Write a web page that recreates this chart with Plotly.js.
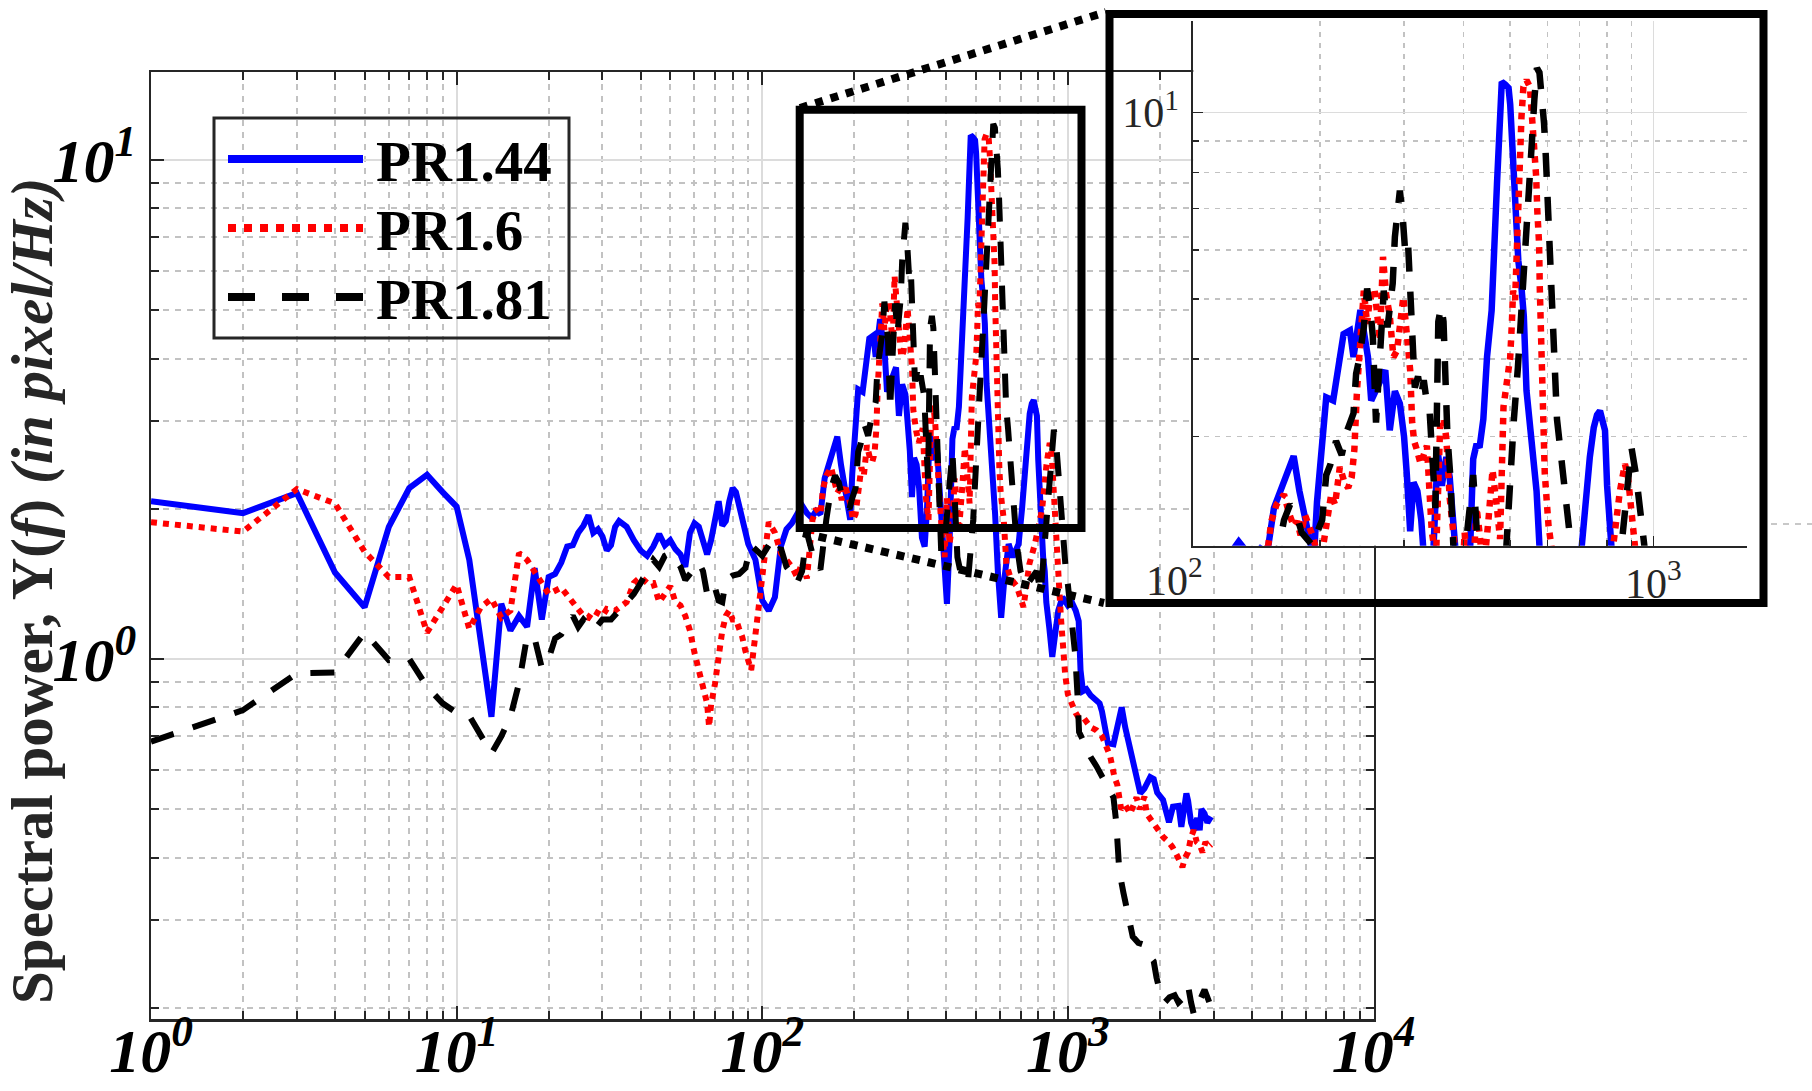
<!DOCTYPE html>
<html><head><meta charset="utf-8">
<script src="https://cdn.plot.ly/plotly-3.0.1.min.js"></script>
<style>html,body{margin:0;padding:0;background:#fff;} #chart{width:1812px;height:1091px;}</style>
</head><body><div id="chart"></div>
<script>
// ---- data (frequency in Hz, spectral power) ----
const seriesNames = ['PR1.44', 'PR1.6', 'PR1.81'];
const seriesColors = ['#0000ff', '#ff0000', '#000000'];

const PR144 = [[1,2.07],[2,1.96],[3,2.15],[4,1.49],[5,1.27],[6,1.84],[7,2.20],[8,2.34],[9,2.16],[10,2.02],[11,1.58],[12,1.11],[13,0.766],[14,1.29],[15,1.14],[16,1.22],[17,1.16],[18,1.52],[19,1.20],[20,1.46],[21,1.48],[22,1.56],[23,1.68],[24,1.69],[25,1.79],[26,1.85],[27,1.94],[28,1.79],[29,1.82],[30,1.76],[31,1.65],[32,1.69],[33,1.84],[34,1.89],[35,1.87],[36,1.84],[38,1.73],[40,1.65],[42,1.61],[44,1.68],[46,1.78],[48,1.69],[50,1.73],[52,1.66],[54,1.62],[56,1.53],[58,1.79],[60,1.87],[62,1.84],[64,1.73],[66,1.62],[68,1.73],[70,1.90],[72,2.07],[74,1.85],[76,1.89],[78,2.07],[80,2.20],[82,2.16],[84,2.02],[86,1.90],[88,1.78],[90,1.70],[95,1.58],[100,1.31],[105,1.25],[110,1.33],[115,1.68],[120,1.82],[125,1.87],[130,1.95],[135,2.03],[140,1.96],[145,1.92],[150,1.98],[155,1.95],[160,2.30],[165,2.45],[170,2.58],[176,2.79],[181,2.45],[186,2.20],[190,2.05],[194,1.90],[197,2.35],[202,2.95],[206,3.47],[213,3.43],[217,3.79],[224,4.39],[231,4.45],[235,4.03],[243,4.80],[248,4.40],[252,4.03],[256,3.43],[262,3.55],[268,3.70],[274,3.84],[280,3.07],[287,3.55],[294,3.39],[300,3.00],[304,2.61],[309,2.11],[314,2.53],[320,2.45],[326,2.20],[333,1.75],[340,1.68],[346,2.00],[353,2.84],[360,2.50],[368,2.78],[374,2.58],[382,2.10],[390,1.60],[396,1.35],[402,1.29],[410,1.70],[419,2.76],[426,2.92],[432,2.88],[440,3.20],[448,4.04],[458,4.79],[466,6.14],[470,7.67],[475,9.13],[481,11.2],[489,11.1],[497,10.96],[501,10.3],[505,9.25],[509,7.87],[512,6.95],[521,5.77],[529,5.22],[535,4.70],[542,3.56],[551,3.07],[560,2.70],[569,2.45],[578,1.95],[590,1.50],[605,1.21],[620,1.45],[640,1.70],[660,1.60],[690,1.70],[708,2.00],[722,2.40],[736,2.78],[750,3.10],[762,3.25],[773,3.30],[785,3.15],[792,3.07],[800,2.50],[811,2.00],[820,1.80],[830,1.60],[840,1.50],[850,1.30],[870,1.15],[889,1.01],[905,1.10],[930,1.25],[960,1.33],[1000,1.28],[1030,1.30],[1061,1.25],[1085,1.19],[1100,0.95],[1120,0.862],[1150,0.87],[1186,0.846],[1230,0.83],[1270,0.815],[1293,0.785],[1330,0.70],[1352,0.678],[1410,0.675],[1460,0.75],[1500,0.80],[1540,0.73],[1605,0.65],[1677,0.591],[1726,0.538],[1780,0.55],[1815,0.56],[1860,0.58],[1909,0.575],[1960,0.54],[2048,0.522],[2142,0.471],[2207,0.506],[2303,0.508],[2351,0.461],[2400,0.50],[2442,0.538],[2474,0.52],[2530,0.47],[2583,0.454],[2650,0.48],[2700,0.454],[2735,0.50],[2800,0.49],[2860,0.47],[2942,0.483]];

const PR16 = [[1,1.88],[2,1.80],[3,2.19],[4,2.05],[5,1.64],[6,1.46],[7,1.46],[8,1.13],[9,1.27],[10,1.41],[11,1.15],[12,1.27],[13,1.32],[14,1.21],[15,1.25],[16,1.63],[17,1.58],[18,1.50],[19,1.42],[20,1.35],[22,1.39],[24,1.30],[26,1.22],[27,1.21],[28,1.25],[30,1.22],[31,1.26],[33,1.25],[36,1.30],[38,1.42],[40,1.46],[42,1.42],[44,1.42],[46,1.30],[48,1.35],[50,1.40],[52,1.30],[54,1.28],[56,1.22],[58,1.14],[60,1.03],[62,0.95],[64,0.88],[66,0.815],[67,0.732],[68,0.81],[70,0.89],[72,1.03],[74,1.14],[76,1.22],[78,1.25],[80,1.20],[82,1.20],[84,1.15],[86,1.108],[88,1.04],[90,0.995],[92,0.95],[95,1.12],[97,1.27],[100,1.46],[105,1.88],[110,1.79],[115,1.63],[120,1.58],[125,1.53],[130,1.46],[135,1.56],[140,1.45],[146,1.90],[150,2.0],[155,1.95],[158,2.19],[162,2.33],[168,2.42],[172,2.26],[176,2.15],[179,2.19],[182,2.08],[186,2.24],[190,2.15],[194,2.05],[198,1.90],[202,1.95],[206,2.15],[211,2.42],[215,2.33],[220,2.68],[225,2.53],[229,2.48],[233,2.58],[236,2.86],[239,3.56],[243,4.29],[247,5.16],[251,4.56],[254,4.97],[260,5.2],[267,4.29],[271,5.85],[275,5.1],[280,4.7],[285,4.03],[290,4.13],[295,4.8],[299,5.04],[304,4.39],[309,3.84],[312,3.16],[315,2.95],[319,2.86],[325,2.71],[335,2.9],[343,2.11],[350,1.9],[357,3.1],[363,3.21],[368,2.98],[374,2.39],[380,2.11],[387,1.8],[395,1.6],[402,2.1],[410,1.7],[420,1.9],[426,2.3],[432,2.1],[440,1.8],[451,2.2],[460,2.65],[470,2.3],[477,2.05],[485,3.35],[493,3.65],[501,4.03],[505,4.56],[508,5.16],[513,4.98],[517,6.14],[521,7.39],[525,8.91],[529,9.84],[534,11.0],[542,11.28],[551,11.0],[556,10.1],[562,8.91],[568,7.87],[571,6.95],[576,6.14],[578,5.2],[582,4.03],[584,3.56],[588,2.95],[592,2.62],[597,2.39],[603,2.15],[617,1.9],[629,1.55],[650,1.45],[680,1.4],[716,1.27],[748,1.55],[780,1.7],[810,1.9],[824,2.0],[851,2.45],[872,2.71],[885,2.58],[898,2.26],[915,1.8],[930,1.5],[950,1.2],[964,1.0],[980,0.93],[1000,0.85],[1030,0.81],[1060,0.78],[1090,0.76],[1130,0.76],[1186,0.73],[1240,0.72],[1293,0.70],[1340,0.66],[1374,0.64],[1420,0.58],[1451,0.56],[1494,0.50],[1540,0.51],[1600,0.49],[1677,0.528],[1720,0.50],[1780,0.53],[1810,0.49],[1854,0.48],[1920,0.47],[1993,0.454],[2050,0.44],[2142,0.429],[2200,0.42],[2270,0.405],[2330,0.39],[2370,0.383],[2420,0.40],[2473,0.41],[2530,0.44],[2582,0.454],[2640,0.43],[2697,0.425],[2760,0.41],[2820,0.43],[2880,0.42],[2942,0.425]];

const PR181 = [[1,0.683],[2,0.79],[3,0.936],[4,0.94],[5,1.13],[6,0.995],[7,1.0],[8,0.88],[9,0.815],[10,0.78],[11,0.77],[12,0.70],[13,0.647],[14,0.70],[15,0.766],[16,0.894],[17,1.11],[18,1.10],[19,0.96],[20,1.0],[21,1.1],[22,1.12],[24,1.22],[25,1.16],[26,1.2],[28,1.14],[30,1.2],[32,1.2],[34,1.25],[36,1.30],[38,1.35],[40,1.42],[42,1.5],[44,1.58],[46,1.53],[48,1.61],[50,1.63],[52,1.58],[54,1.53],[56,1.44],[58,1.48],[60,1.53],[62,1.56],[64,1.5],[66,1.35],[68,1.33],[70,1.39],[72,1.31],[74,1.30],[76,1.44],[80,1.47],[84,1.48],[88,1.52],[92,1.69],[96,1.65],[100,1.61],[105,1.69],[110,1.61],[115,1.67],[120,1.53],[125,1.48],[130,1.42],[135,1.5],[140,1.79],[147,1.6],[155,1.51],[162,1.9],[168,2.2],[173,2.33],[178,2.26],[183,2.1],[188,2.05],[193,2.0],[197,2.1],[202,2.2],[206,2.6],[210,2.7],[216,2.95],[222,2.8],[228,3.07],[235,3.27],[238,3.79],[242,4.03],[247,4.5],[251,5.2],[255,4.8],[258,4.35],[262,3.16],[265,3.6],[268,4.2],[272,5.16],[277,4.5],[280,4.8],[284,5.3],[287,6.3],[291,6.9],[294,7.48],[298,6.8],[302,5.9],[306,6.1],[309,5.0],[313,4.2],[316,3.6],[321,3.75],[326,3.5],[330,3.7],[335,3.4],[339,3.35],[345,2.6],[349,2.3],[354,4.6],[359,4.87],[363,4.6],[366,3.8],[370,3.0],[375,2.6],[378,2.24],[385,1.64],[395,1.7],[405,2.05],[412,2.3],[419,2.6],[425,2.2],[435,1.6],[450,1.45],[471,1.43],[490,1.9],[501,2.6],[510,3.2],[520,3.88],[530,4.8],[539,6.0],[548,7.5],[556,8.9],[563,10.5],[570,11.8],[577,11.6],[583,10.8],[590,9.6],[595,8.5],[600,7.2],[605,6.3],[610,5.2],[616,4.5],[622,3.8],[628,3.2],[637,2.9],[648,2.5],[659,2.27],[668,2.05],[680,1.7],[700,1.5],[730,1.4],[760,1.45],[790,1.5],[815,1.36],[840,1.7],[860,2.1],[881,2.5],[900,2.88],[920,2.6],[940,2.2],[955,1.9],[970,1.6],[985,1.5],[1000,1.41],[1030,1.2],[1057,1.02],[1075,0.85],[1088,0.714],[1130,0.68],[1186,0.637],[1240,0.61],[1293,0.58],[1350,0.55],[1410,0.528],[1440,0.47],[1473,0.376],[1520,0.34],[1560,0.311],[1630,0.278],[1700,0.27],[1776,0.2676],[1840,0.255],[1909,0.248],[1950,0.23],[1993,0.2175],[2081,0.2055],[2150,0.21],[2236,0.212],[2300,0.205],[2380,0.209],[2473,0.2216],[2530,0.205],[2583,0.194],[2650,0.205],[2720,0.209],[2800,0.2175],[2860,0.21],[2900,0.2055]];

const xTickVals = [1, 10, 100, 1000, 10000];
const xTickText = ['10<sup>0</sup>', '10<sup>1</sup>', '10<sup>2</sup>', '10<sup>3</sup>', '10<sup>4</sup>'];
const yTickVals = [1, 10];
const yTickText = ['10<sup>0</sup>', '10<sup>1</sup>'];
const insetXTickVals = [1000];
const insetXTickText = ['10<sup>3</sup>'];
const insetYTickVals = [10];
const insetYTickText = ['10<sup>1</sup>'];
const insetLeftLabel = '10<sup>2</sup>';
const yTitleText = 'Spectral power, Y(<i>f</i>) <i>(in pixel/Hz)</i>';

// zoom window in data units (Hz, power)
const zoomWin = {f0: 132.6, f1: 1108, p0: 1.83, p1: 12.6};

// ---- build ----
function minorVals(e0, e1) {
  const out = [];
  for (let e = e0; e < e1; e++) for (let m = 2; m <= 9; m++) out.push(+(m * Math.pow(10, e)).toPrecision(6));
  return out;
}
const allSeries = [PR144, PR16, PR181];
const dashes = ['solid', 'dot', '24px,20px'];
const legendDashes = ['solid', 'dot', '27px,27px'];
const traces = [];
allSeries.forEach((s, i) => {
  traces.push({
    x: s.map(p => p[0]), y: s.map(p => p[1]), type: 'scatter', mode: 'lines',
    name: seriesNames[i], xaxis: 'x', yaxis: 'y', showlegend: false,
    line: {color: seriesColors[i], width: 6, dash: dashes[i]}, hoverinfo: 'skip'
  });
});
allSeries.forEach((s, i) => {
  traces.push({
    x: s.map(p => p[0]), y: s.map(p => p[1]), type: 'scatter', mode: 'lines',
    name: seriesNames[i], xaxis: 'x3', yaxis: 'y3', showlegend: false,
    line: {color: seriesColors[i], width: 6.5, dash: dashes[i]}, hoverinfo: 'skip'
  });
});

const AX = '#262626';
const serif = 'Liberation Serif';
const mainTickFont = {family: serif, size: 62, weight: 'bold', style: 'italic', color: '#000'};
const insetTickFont = {family: serif, size: 42, color: AX};

function mainAxis(extra) {
  return Object.assign({
    type: 'log', tickmode: 'array', ticks: 'inside', ticklen: 13, tickwidth: 2, tickcolor: AX,
    showline: true, linecolor: AX, linewidth: 2.5, mirror: 'ticks',
    showgrid: true, gridcolor: '#dcdcdc', gridwidth: 2, zeroline: false,
    tickfont: mainTickFont, fixedrange: true
  }, extra);
}

// paper geometry helpers (figure pixels -> paper fraction)
const W = 1812, H = 1091, ML = 151, MR = 46, MT = 10, MB = 72;
const PW = W - ML - MR, PH = H - MT - MB;
const px = X => (X - ML) / PW;
const py = Y => (H - MB - Y) / PH;

// legend box geometry (figure pixels)
const LEG = {x0: 214, y0: 118, x1: 569, y1: 338, lx0: 228, lx1: 363, tx: 374, rows: [159, 228, 297]};

const shapes = [
  // zoom window on main axes (data units)
  {type: 'rect', xref: 'x', yref: 'y', layer: 'above',
   x0: zoomWin.f0, x1: zoomWin.f1, y0: zoomWin.p0, y1: zoomWin.p1,
   line: {color: '#000', width: 8}, fillcolor: 'rgba(0,0,0,0)'},
  // connectors
  {type: 'line', xref: 'paper', yref: 'paper', layer: 'above',
   x0: px(800), y0: py(108), x1: px(1106), y1: py(12), line: {color: '#000', width: 8, dash: 'dot'}},
  {type: 'line', xref: 'paper', yref: 'paper', layer: 'above',
   x0: px(803), y0: py(533), x1: px(1104), y1: py(603), line: {color: '#000', width: 8, dash: 'dot'}},
  // inset frame
  {type: 'rect', xref: 'paper', yref: 'paper', layer: 'above',
   x0: px(1109.5), x1: px(1763.5), y0: py(603), y1: py(14),
   line: {color: '#000', width: 8}, fillcolor: 'rgba(0,0,0,0)'},
  // stray dashed grid stub right of inset
  {type: 'line', xref: 'paper', yref: 'paper', layer: 'above',
   x0: px(1771), x1: px(1812), y0: py(524), y1: py(524), line: {color: '#c8c8c8', width: 2, dash: '6px,6px'}},
  // legend frame (transparent, grid shows through)
  {type: 'rect', xref: 'paper', yref: 'paper', layer: 'above',
   x0: px(LEG.x0), x1: px(LEG.x1), y0: py(LEG.y1), y1: py(LEG.y0),
   line: {color: AX, width: 3}, fillcolor: 'rgba(0,0,0,0)'}
];
const annotations = [
  {xref: 'paper', yref: 'paper', x: px(32), y: py(591), xanchor: 'center', yanchor: 'middle',
   text: yTitleText, textangle: -90, showarrow: false,
   font: {family: serif, size: 59, weight: 'bold', color: AX}},
  {xref: 'paper', yref: 'paper', x: px(1174), y: py(577), xanchor: 'center', yanchor: 'middle',
   text: insetLeftLabel, showarrow: false, font: insetTickFont}
];
seriesNames.forEach((nm, i) => {
  shapes.push({type: 'line', xref: 'paper', yref: 'paper', layer: 'above',
    x0: px(LEG.lx0), x1: px(LEG.lx1), y0: py(LEG.rows[i]), y1: py(LEG.rows[i]),
    line: {color: seriesColors[i], width: 8, dash: legendDashes[i]}});
  annotations.push({xref: 'paper', yref: 'paper', x: px(LEG.tx), y: py(LEG.rows[i] + 2),
    xanchor: 'left', yanchor: 'middle', text: nm, showarrow: false,
    font: {family: serif, size: 57, weight: 'bold', color: '#000'}});
});

const layout = {
  width: W, height: H,
  margin: {l: ML, r: MR, t: MT, b: MB, pad: 0},
  paper_bgcolor: '#fff', plot_bgcolor: '#fff',
  showlegend: false,
  xaxis: mainAxis({
    domain: [0, px(1373.5)], anchor: 'y', range: [0, 4],
    tickvals: xTickVals, ticktext: xTickText, ticklabelstandoff: -24,
    minor: {tickmode: 'array', tickvals: minorVals(0, 4), ticks: 'inside', ticklen: 8, tickwidth: 2, tickcolor: AX,
            showgrid: true, gridcolor: '#c2c2c2', gridwidth: 2, griddash: '6px,6px'}
  }),
  yaxis: mainAxis({
    domain: [0, py(72)], anchor: 'x', range: [Math.log10(0.19), Math.log10(15)],
    tickvals: yTickVals, ticktext: yTickText,
    minor: {tickmode: 'array', tickvals: minorVals(-1, 2), ticks: 'inside', ticklen: 8, tickwidth: 2, tickcolor: AX,
            showgrid: true, gridcolor: '#c2c2c2', gridwidth: 2, griddash: '6px,6px'}
  }),
  // white panel under the inset
  xaxis2: {domain: [px(1105), 1], anchor: 'y2', range: [0, 1], showgrid: false, showline: false, zeroline: false,
           showticklabels: false, ticks: '', fixedrange: true},
  yaxis2: {domain: [py(607), 1], anchor: 'x2', range: [0, 1], showgrid: false, showline: false, zeroline: false,
           showticklabels: false, ticks: '', fixedrange: true},
  // inset axes
  xaxis3: {
    type: 'log', domain: [px(1193.3), px(1747)], anchor: 'y3', range: [2.035, 3.1966],
    tickmode: 'array', tickvals: insetXTickVals, ticktext: insetXTickText,
    ticks: 'inside', ticklen: 10, tickwidth: 1.5, tickcolor: AX, showline: true, linecolor: AX, linewidth: 2,
    showgrid: true, gridcolor: '#dcdcdc', gridwidth: 1.5, zeroline: false, tickfont: insetTickFont, fixedrange: true,
    minor: {tickmode: 'array', tickvals: minorVals(2, 3), ticks: 'inside', ticklen: 6, tickwidth: 1.5, tickcolor: AX,
            showgrid: true, gridcolor: '#c2c2c2', gridwidth: 1.5, griddash: '5px,6px'}
  },
  yaxis3: {
    type: 'log', domain: [py(545.7), py(21)], anchor: 'x3', range: [Math.log10(2), Math.log10(14.05)],
    tickmode: 'array', tickvals: insetYTickVals, ticktext: insetYTickText,
    ticks: 'inside', ticklen: 10, tickwidth: 1.5, tickcolor: AX, showline: true, linecolor: AX, linewidth: 2,
    showgrid: true, gridcolor: '#dcdcdc', gridwidth: 1.5, zeroline: false, tickfont: insetTickFont, fixedrange: true,
    ticklabelstandoff: 4,
    minor: {tickmode: 'array', tickvals: minorVals(0, 2), ticks: 'inside', ticklen: 6, tickwidth: 1.5, tickcolor: AX,
            showgrid: true, gridcolor: '#c2c2c2', gridwidth: 1.5, griddash: '5px,6px'}
  },
  shapes: shapes,
  annotations: annotations
};

Plotly.newPlot('chart', traces, layout, {displayModeBar: false, staticPlot: true});
</script>
</body></html>
